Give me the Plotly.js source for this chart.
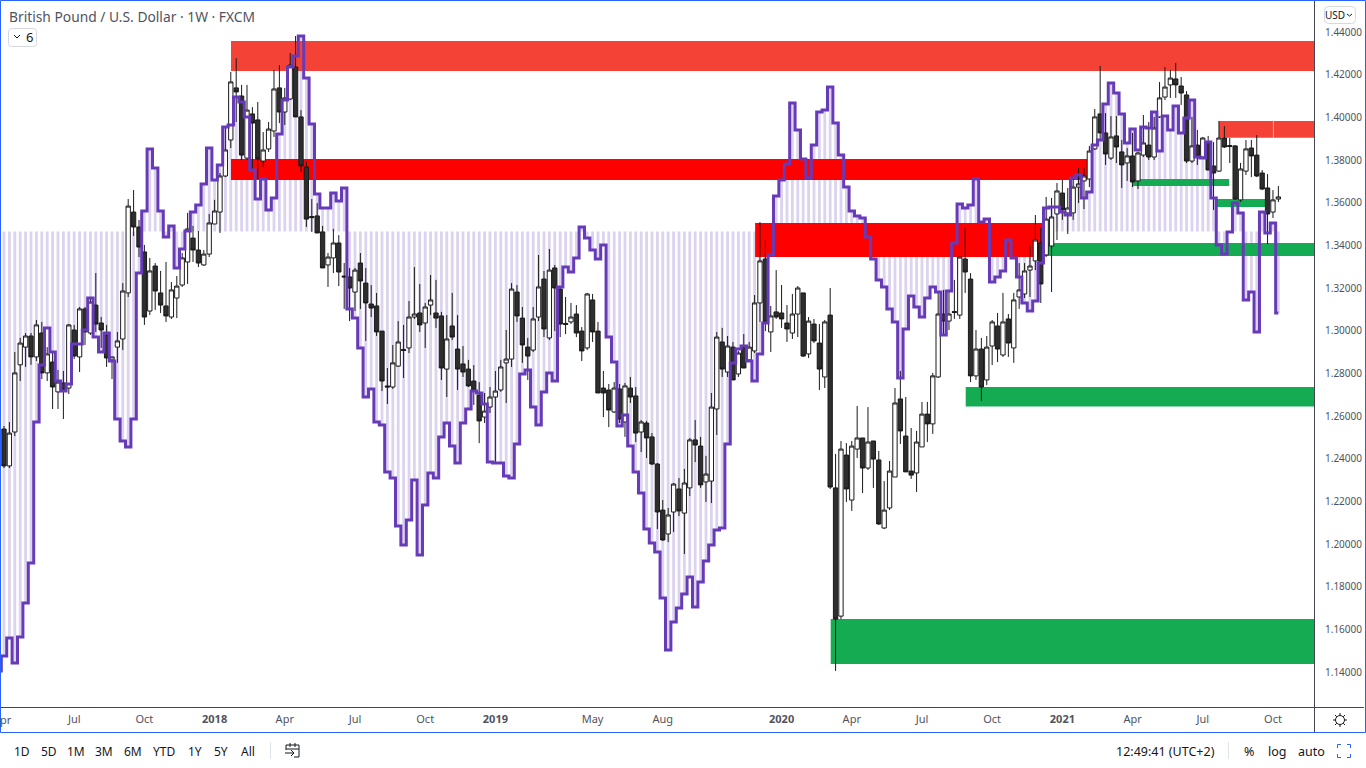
<!DOCTYPE html>
<html>
<head>
<meta charset="utf-8">
<script src="https://cdn.plot.ly/plotly-3.0.1.min.js"></script>
<style>html,body{margin:0;padding:0;background:#fff;overflow:hidden}#c{width:1366px;height:768px}</style>
</head>
<body>
<div id="c"></div>
<script>
// Weekly GBP/USD candles, week 0 = Apr 2017
const open = [1.2539,1.2366,1.2525,1.2840,1.2923,1.2975,1.2877,1.2989,1.2802,1.2853,1.2713,1.2755,1.2731,1.3003,1.2877,1.3102,1.2989,1.3120,1.3036,1.2980,1.2863,1.2923,1.2961,1.3177,1.3556,1.3486,1.3369,1.3092,1.3303,1.3177,1.3116,1.3064,1.3153,1.3214,1.3322,1.3434,1.3378,1.3308,1.3359,1.3500,1.3556,1.3725,1.3894,1.4138,1.4100,1.3809,1.4016,1.3988,1.3795,1.3852,1.3936,1.4138,1.4025,1.4086,1.4236,1.4002,1.3767,1.3535,1.3538,1.3463,1.3308,1.3341,1.3411,1.3256,1.3252,1.3181,1.3317,1.3223,1.3125,1.3116,1.2998,1.2741,1.2736,1.2834,1.2912,1.2919,1.3064,1.3083,1.3036,1.3120,1.3083,1.3069,1.2820,1.3022,1.2914,1.2844,1.2820,1.2764,1.2698,1.2595,1.2642,1.2689,1.2722,1.2849,1.2867,1.3181,1.3059,1.2923,1.2909,1.3064,1.3242,1.2966,1.3294,1.3195,1.3034,1.3041,1.3078,1.2998,1.2919,1.3144,1.2998,1.2731,1.2722,1.2619,1.2727,1.2572,1.2731,1.2694,1.2525,1.2567,1.2502,1.2375,1.2159,1.2047,1.2150,1.2258,1.2145,1.2263,1.2488,1.2459,1.2291,1.2295,1.2633,1.2947,1.2806,1.2923,1.2797,1.2923,1.2863,1.2905,1.3130,1.3336,1.2994,1.3088,1.3083,1.3036,1.2989,1.3078,1.3177,1.2891,1.3031,1.2942,1.2783,1.3073,1.2263,1.1662,1.2417,1.2206,1.2445,1.2497,1.2356,1.2483,1.2394,1.2075,1.2169,1.2314,1.2680,1.2506,1.2342,1.2333,1.2455,1.2609,1.2563,1.2783,1.3078,1.3045,1.3090,1.3073,1.3336,1.3242,1.2788,1.2914,1.2769,1.2928,1.3022,1.2886,1.3055,1.2919,1.3158,1.3172,1.3284,1.3327,1.3411,1.3355,1.3397,1.3547,1.3645,1.3552,1.3552,1.3673,1.3702,1.3711,1.3852,1.4016,1.3927,1.3809,1.3913,1.3838,1.3786,1.3819,1.3702,1.3823,1.3870,1.3814,1.4002,1.4095,1.4152,1.4180,1.4147,1.4105,1.3795,1.3870,1.3814,1.3880,1.3772,1.3748,1.3903,1.3868,1.3866,1.3613,1.3748,1.3856,1.3823,1.3739,1.3669,1.3556,1.3617];
const high = [1.2553,1.2572,1.2900,1.2966,1.2989,1.2989,1.3050,1.3041,1.2923,1.2895,1.2816,1.2811,1.3031,1.3027,1.3111,1.3111,1.3153,1.3270,1.3064,1.3027,1.2877,1.2994,1.3223,1.3617,1.3659,1.3519,1.3402,1.3341,1.3317,1.3280,1.3322,1.3228,1.3256,1.3364,1.3552,1.3491,1.3467,1.3378,1.3547,1.3613,1.3739,1.3955,1.4213,1.4278,1.4152,1.4152,1.4048,1.4072,1.3931,1.3978,1.4222,1.4245,1.4138,1.4302,1.4381,1.4034,1.3795,1.3617,1.3598,1.3491,1.3364,1.3477,1.3448,1.3317,1.3294,1.3294,1.3364,1.3294,1.3214,1.3177,1.2998,1.2825,1.2933,1.3045,1.3027,1.3139,1.3298,1.3219,1.3130,1.3261,1.3238,1.3088,1.3073,1.3177,1.3073,1.2928,1.2863,1.2839,1.2759,1.2708,1.2736,1.2811,1.2863,1.3003,1.3223,1.3214,1.3111,1.2966,1.3111,1.3355,1.3280,1.3383,1.3308,1.3209,1.3158,1.3130,1.3120,1.3017,1.3177,1.3172,1.3041,1.2811,1.2750,1.2759,1.2750,1.2755,1.2783,1.2736,1.2581,1.2577,1.2520,1.2380,1.2206,1.2169,1.2286,1.2309,1.2352,1.2497,1.2581,1.2502,1.2413,1.2708,1.2994,1.3013,1.2975,1.2947,1.2905,1.2984,1.2947,1.3167,1.3509,1.3425,1.3116,1.3284,1.3214,1.3120,1.3172,1.3209,1.3177,1.3064,1.3055,1.3031,1.3050,1.3200,1.2422,1.2483,1.2473,1.2483,1.2647,1.2497,1.2642,1.2483,1.2436,1.2295,1.2389,1.2731,1.2811,1.2689,1.2544,1.2530,1.2666,1.2666,1.2802,1.3181,1.3191,1.3191,1.3238,1.3345,1.3481,1.3270,1.3003,1.2966,1.2975,1.3050,1.3083,1.3177,1.3078,1.3177,1.3317,1.3317,1.3397,1.3542,1.3481,1.3627,1.3622,1.3692,1.3706,1.3669,1.3720,1.3763,1.3763,1.3866,1.4039,1.4241,1.4020,1.4006,1.4006,1.3894,1.3856,1.3927,1.3838,1.4011,1.3978,1.4002,1.4166,1.4236,1.4222,1.4255,1.4189,1.4123,1.4002,1.3941,1.3908,1.3913,1.3884,1.3983,1.3959,1.3903,1.3870,1.3786,1.3894,1.3894,1.3917,1.3753,1.3734,1.3659,1.3678];
const low = [1.2356,1.2356,1.2506,1.2764,1.2830,1.2840,1.2858,1.2773,1.2764,1.2633,1.2633,1.2586,1.2703,1.2867,1.2806,1.2933,1.2980,1.2994,1.2919,1.2830,1.2773,1.2849,1.2909,1.3158,1.3444,1.3345,1.3027,1.3073,1.3097,1.3083,1.3041,1.3055,1.3059,1.3205,1.3219,1.3322,1.3298,1.3303,1.3345,1.3500,1.3458,1.3720,1.3856,1.3978,1.3800,1.3800,1.3753,1.3711,1.3767,1.3838,1.3908,1.3973,1.3964,1.4081,1.4002,1.3744,1.3486,1.3463,1.3458,1.3294,1.3205,1.3270,1.3209,1.3102,1.3045,1.3092,1.3102,1.2952,1.3064,1.2975,1.2717,1.2656,1.2727,1.2830,1.2778,1.2895,1.3055,1.2994,1.2919,1.3073,1.3013,1.2769,1.2689,1.2956,1.2722,1.2783,1.2736,1.2652,1.2473,1.2567,1.2614,1.2380,1.2713,1.2661,1.2830,1.3041,1.2849,1.2769,1.2900,1.3045,1.2970,1.2956,1.2998,1.2970,1.2984,1.3031,1.2970,1.2858,1.2909,1.2947,1.2708,1.2595,1.2548,1.2614,1.2567,1.2502,1.2661,1.2478,1.2431,1.2403,1.2370,1.2070,1.2014,1.2009,1.2056,1.2131,1.1953,1.2225,1.2384,1.2263,1.2197,1.2192,1.2511,1.2783,1.2783,1.2769,1.2783,1.2825,1.2853,1.2895,1.3041,1.2998,1.2900,1.3055,1.3013,1.2947,1.2961,1.2970,1.2877,1.2872,1.2942,1.2722,1.2731,1.2258,1.1405,1.1648,1.2197,1.2155,1.2403,1.2239,1.2347,1.2263,1.2089,1.2070,1.2159,1.2314,1.2469,1.2338,1.2305,1.2244,1.2455,1.2478,1.2516,1.2778,1.2980,1.3003,1.3055,1.3055,1.3177,1.2759,1.2769,1.2670,1.2745,1.2839,1.2853,1.2877,1.2877,1.2849,1.3102,1.3153,1.3158,1.3284,1.3130,1.3345,1.3181,1.3425,1.3519,1.3453,1.3519,1.3598,1.3570,1.3673,1.3847,1.3894,1.3777,1.3800,1.3786,1.3669,1.3702,1.3673,1.3664,1.3814,1.3800,1.3800,1.3997,1.4081,1.4091,1.4091,1.4058,1.3786,1.3786,1.3777,1.3809,1.3753,1.3566,1.3744,1.3856,1.3786,1.3613,1.3603,1.3730,1.3720,1.3720,1.3659,1.3406,1.3528,1.3603];
const close = [1.2366,1.2520,1.2802,1.2942,1.2975,1.2877,1.3027,1.2802,1.2891,1.2736,1.2759,1.2722,1.3027,1.2881,1.3102,1.2994,1.3134,1.3031,1.3003,1.2872,1.2877,1.2952,1.3186,1.3584,1.3486,1.3392,1.3064,1.3280,1.3186,1.3120,1.3069,1.3191,1.3209,1.3341,1.3477,1.3378,1.3317,1.3359,1.3505,1.3561,1.3725,1.3847,1.4166,1.4119,1.3823,1.4034,1.3973,1.3805,1.3847,1.3945,1.4133,1.4025,1.4091,1.4245,1.4002,1.3772,1.3523,1.3530,1.3458,1.3294,1.3345,1.3411,1.3275,1.3252,1.3200,1.3284,1.3233,1.3130,1.3106,1.2994,1.2764,1.2736,1.2849,1.2947,1.2907,1.3064,1.3078,1.3027,1.3111,1.3144,1.3059,1.2825,1.2961,1.2970,1.2820,1.2806,1.2741,1.2722,1.2577,1.2623,1.2689,1.2717,1.2830,1.2867,1.3195,1.3069,1.2933,1.2881,1.3055,1.3205,1.3008,1.3284,1.3200,1.3031,1.3029,1.3064,1.2989,1.2905,1.3172,1.2994,1.2708,1.2708,1.2628,1.2731,1.2586,1.2741,1.2689,1.2520,1.2572,1.2497,1.2375,1.2150,1.2019,1.2136,1.2281,1.2155,1.2286,1.2488,1.2464,1.2277,1.2328,1.2642,1.2970,1.2820,1.2928,1.2769,1.2895,1.2825,1.2923,1.3130,1.3327,1.3041,1.3069,1.3064,1.3055,1.3008,1.3078,1.3200,1.2881,1.3045,1.2952,1.2820,1.3041,1.2267,1.1648,1.2445,1.2258,1.2459,1.2497,1.2356,1.2478,1.2398,1.2094,1.2159,1.2342,1.2661,1.2530,1.2338,1.2323,1.2478,1.2609,1.2563,1.2788,1.3078,1.3045,1.3078,1.3085,1.3345,1.3275,1.2788,1.2914,1.2736,1.2923,1.3041,1.2914,1.3041,1.2942,1.3144,1.3191,1.3280,1.3303,1.3425,1.3219,1.3523,1.3533,1.3655,1.3566,1.3575,1.3673,1.3688,1.3725,1.3842,1.4002,1.3927,1.3828,1.3908,1.3861,1.3777,1.3819,1.3697,1.3833,1.3880,1.3814,1.3950,1.4091,1.4142,1.4184,1.4152,1.4114,1.3795,1.3866,1.3819,1.3903,1.3753,1.3739,1.3903,1.3861,1.3863,1.3617,1.3758,1.3852,1.3819,1.3725,1.3664,1.3547,1.3613,1.3627];

// Purple step line, starts one week before the first candle
const signal = [1.1405,1.1475,1.1559,1.1442,1.1564,1.1723,1.1911,1.2572,1.2839,1.3013,1.2900,1.2764,1.2717,1.2750,1.2938,1.2938,1.3003,1.3153,1.2970,1.2900,1.2989,1.2858,1.2586,1.2483,1.2455,1.2586,1.3270,1.3561,1.3852,1.3763,1.3561,1.3439,1.3491,1.3294,1.3383,1.3467,1.3556,1.3589,1.3688,1.3856,1.3706,1.3777,1.3955,1.3964,1.4095,1.4072,1.4002,1.3753,1.3617,1.3711,1.3566,1.3622,1.3922,1.4081,1.4236,1.4288,1.4381,1.4184,1.3969,1.3641,1.3575,1.3575,1.3645,1.3608,1.3669,1.3102,1.3059,1.2919,1.2689,1.2727,1.2572,1.2558,1.2338,1.2309,1.2084,1.1995,1.2113,1.2300,1.1948,1.2183,1.2333,1.2309,1.2502,1.2567,1.2459,1.2380,1.2567,1.2633,1.2717,1.2708,1.2656,1.2384,1.2380,1.2380,1.2319,1.2309,1.2469,1.2797,1.2816,1.2642,1.2558,1.2713,1.2802,1.2764,1.3205,1.3298,1.3275,1.3341,1.3486,1.3434,1.3378,1.3336,1.3402,1.2970,1.2853,1.2553,1.2605,1.2459,1.2338,1.2239,1.2070,1.2005,1.1963,1.1747,1.1503,1.1634,1.1700,1.1766,1.1845,1.1705,1.1822,1.1920,1.1995,1.2066,1.2075,1.2469,1.2849,1.2914,1.2928,1.2858,1.2764,1.2891,1.3036,1.3355,1.3631,1.3706,1.3781,1.4067,1.3941,1.3805,1.3716,1.3870,1.4025,1.4034,1.4142,1.3973,1.3823,1.3673,1.3561,1.3538,1.3528,1.3439,1.3336,1.3238,1.3205,1.3102,1.3041,1.2778,1.3008,1.3163,1.3111,1.3064,1.3153,1.3205,1.3181,1.2980,1.3186,1.3411,1.3594,1.3575,1.3589,1.3711,1.3509,1.3523,1.3228,1.3252,1.3280,1.3425,1.3341,1.3252,1.3130,1.3092,1.3139,1.3317,1.3575,1.3580,1.3580,1.3556,1.3542,1.3716,1.3730,1.3622,1.3650,1.3870,1.3894,1.4062,1.4161,1.4114,1.4016,1.3880,1.3945,1.3847,1.3955,1.3950,1.4025,1.3842,1.4006,1.3941,1.4053,1.3927,1.3997,1.4081,1.3814,1.3809,1.3884,1.3622,1.3402,1.3359,1.3463,1.3598,1.3552,1.3144,1.3181,1.2994,1.3556,1.3458,1.3505,1.3083];
const signalBase = 1.3465;

// Supply (red) and demand (green) zones: week range and price range
const zoneFrom = [42.04, 42.04, 139.1, 225, 235.1, 209.1, 224.6, 192.4, 178.1, 153.1];
const zoneTo   = [243, 200.6, 192.4, 235, 243, 226.9, 234, 243, 243, 243];
const zoneHigh = [1.4358, 1.3805, 1.3505, 1.3983, 1.3983, 1.3711, 1.3617, 1.3411, 1.2736, 1.1648];
const zoneLow  = [1.4217, 1.3706, 1.3345, 1.3904, 1.3904, 1.3678, 1.3580, 1.3350, 1.2645, 1.1437];
const zoneColor = ['#f44336','#ff0000','#ff0000','#f44336','#f44336','#15ab52','#15ab52','#15ab52','#15ab52','#15ab52'];

// Axis labels
const tickWeek = [13,26,39,52,65,78,91,109,122,144,157,170,183,196,209,222,235];
const tickText = ['Jul','Oct','<b>2018</b>','Apr','Jul','Oct','<b>2019</b>','May','Aug','<b>2020</b>','Apr','Jul','Oct','<b>2021</b>','Apr','Jul','Oct'];

// Header and footer text
const titleText = 'British Pound / U.S. Dollar · 1W · FXCM';
const rangeLabels = ['1D','5D','1M','3M','6M','YTD','1Y','5Y','All'];
const rangeLabelX = [22,49,76,104,133,164,195,221,248];
const footerRight = [['12:49:41 (UTC+2)',1165],['%',1249],['log',1277],['auto',1311]];

const W = open.map((_, i) => i);
const FX = px => px / 1314, FY = py => (707 - py) / 707;
const FONT = '"Noto Sans", Roboto, sans-serif';

const traces = [
  {type:'bar', x0:-1, dx:1, y:signal.map(v => v - signalBase), base:signalBase, width:0.52,
   marker:{color:'#dcd3ef', line:{width:0}}, hoverinfo:'skip', showlegend:false},
  {type:'bar', x:zoneFrom.map((a,i) => (a+zoneTo[i])/2), width:zoneFrom.map((a,i) => zoneTo[i]-a),
   base:zoneLow, y:zoneHigh.map((h,i) => h-zoneLow[i]),
   marker:{color:zoneColor, line:{width:0}}, hoverinfo:'skip', showlegend:false},
  {type:'candlestick', x:W, open, high, low, close, whiskerwidth:0,
   increasing:{line:{color:'#1a1a1a', width:1}, fillcolor:'#ffffff'},
   decreasing:{line:{color:'#1a1a1a', width:1}, fillcolor:'#2e2e2e'},
   hoverinfo:'skip', showlegend:false},
  {type:'scatter', mode:'lines', x0:-1, dx:1, y:signal,
   line:{color:'#673ab7', width:3, shape:'hvh'}, hoverinfo:'skip', showlegend:false}
];

function note(text, x, y, size, color, anchor) {
  return {text, xref:'paper', yref:'paper', x:FX(x), y:FY(y), xanchor:anchor||'center', yanchor:'middle',
          showarrow:false, font:{family:FONT, size, color}};
}
const annotations = [
  note(titleText, 6.5, 16, 13.8, '#50535e', 'left'),
  note('6', 29, 37, 13, '#131722'),
  note('USD', 1335, 15, 10, '#131722'),
  note('Apr', 2, 719, 11, '#50535e')
];
rangeLabels.forEach((t,i) => annotations.push(note(t, rangeLabelX[i], 751, 12, '#131722')));
footerRight.forEach(r => annotations.push(note(r[0], r[1], 751, 12.5, '#131722')));

function line(x0,y0,x1,y1,color,w){
  return {type:'line', xref:'paper', yref:'paper', x0:FX(x0), y0:FY(y0), x1:FX(x1), y1:FY(y1), layer:'above', line:{color, width:w||1}};
}
function path(pts, color, w, close){
  const s = pts.map((p,i) => (i?'L':'M') + FX(p[0]) + ',' + FY(p[1])).join(' ') + (close?' Z':'');
  return {type:'path', xref:'paper', yref:'paper', path:s, layer:'above', line:{color, width:w||1}};
}
function rounded(x0,y0,x1,y1,r,color){
  const s = 'M'+FX(x0+r)+','+FY(y0)+' L'+FX(x1-r)+','+FY(y0)+' Q'+FX(x1)+','+FY(y0)+' '+FX(x1)+','+FY(y0+r)+
    ' L'+FX(x1)+','+FY(y1-r)+' Q'+FX(x1)+','+FY(y1)+' '+FX(x1-r)+','+FY(y1)+' L'+FX(x0+r)+','+FY(y1)+
    ' Q'+FX(x0)+','+FY(y1)+' '+FX(x0)+','+FY(y1-r)+' L'+FX(x0)+','+FY(y0+r)+' Q'+FX(x0)+','+FY(y0)+' '+FX(x0+r)+','+FY(y0)+' Z';
  return {type:'path', xref:'paper', yref:'paper', path:s, layer:'above', line:{color, width:1}};
}
const ink = '#131722', blue = '#2962ff';
const shapes = [
  line(0,707.5,1364,707.5,'#434651'),
  line(1314.5,0,1314.5,732,'#434651'),
  line(270.5,742,270.5,759,'#e0e3eb'),
  line(1228.5,742,1228.5,759,'#e0e3eb'),
  rounded(8.5,28.5,36.5,46.5,3,'#d6d8e0'),
  path([[14,35],[17,38],[20,35]], ink),
  rounded(1324.5,6.5,1355.5,23.5,4,'#d6d8e0'),
  path([[1347,14],[1349.5,16],[1352,14]], ink),
  // calendar icon
  path([[294,757],[299,757],[299,745],[286,745],[286,750]], ink),
  line(286,749,299,749,ink), line(290,743,290,747,ink), line(295,743,295,747,ink),
  path([[285,753],[294,753]], ink), path([[291,750],[294,753],[291,756]], ink),
  // settings icon
  {type:'circle', xref:'paper', yref:'paper', x0:FX(1335.5), x1:FX(1344.5), y0:FY(724.5), y1:FY(715.5), layer:'above', line:{color:ink, width:1}},
  line(1340,713,1340,715.5,ink), line(1340,724.5,1340,727,ink), line(1333,720,1335.5,720,ink), line(1344.5,720,1347,720,ink),
  line(1335,715,1336.8,716.8,ink), line(1345,715,1343.2,716.8,ink), line(1335,725,1336.8,723.2,ink), line(1345,725,1343.2,723.2,ink),
  // fullscreen icon
  path([[1337.5,748],[1337.5,744.5],[1341,744.5]], blue), path([[1347,744.5],[1350.5,744.5],[1350.5,748]], blue),
  path([[1337.5,754],[1337.5,757.5],[1341,757.5]], blue), path([[1347,757.5],[1350.5,757.5],[1350.5,754]], blue),
  // outer frame
  path([[0.5,0.5],[1365.5,0.5],[1365.5,732.5],[0.5,732.5]], blue, 1, true)
];

const layout = {
  width:1366, height:768, paper_bgcolor:'#ffffff', plot_bgcolor:'#ffffff',
  margin:{l:0, r:52, t:0, b:61, pad:0}, barmode:'overlay', boxmode:'overlay', boxgap:0.2, boxgroupgap:0, showlegend:false, hovermode:false,
  font:{family:FONT, size:11, color:'#50535e'},
  xaxis:{type:'linear', range:[-0.741, 242.6], rangeslider:{visible:false}, showgrid:false, zeroline:false,
         tickmode:'array', tickvals:tickWeek, ticktext:tickText, ticks:'outside', ticklen:2, tickcolor:'rgba(0,0,0,0)',
         tickfont:{family:FONT, size:11, color:'#50535e'}, showline:false, fixedrange:true},
  yaxis:{type:'linear', side:'right', range:[1.1236, 1.4550], showgrid:false, zeroline:false, dtick:0.02, tick0:1.14,
         tickformat:'.5f', ticks:'outside', ticklen:8, tickcolor:'rgba(0,0,0,0)',
         tickfont:{family:FONT, size:10, color:'#50535e'}, showline:false, fixedrange:true},
  annotations, shapes
};
Plotly.newPlot('c', traces, layout, {displayModeBar:false, staticPlot:true, responsive:false});
</script>
</body>
</html>
